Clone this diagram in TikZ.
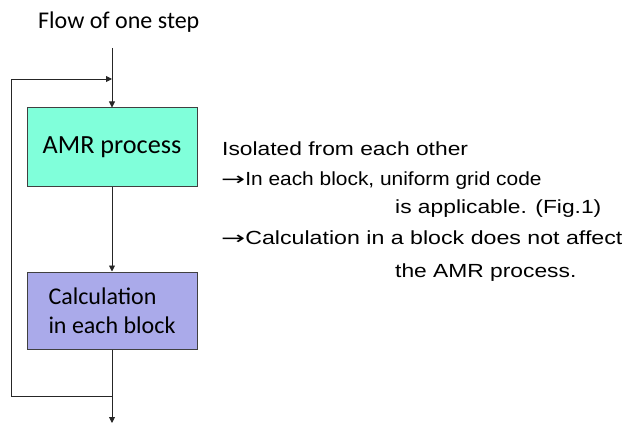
\documentclass[tikz,border=0pt]{standalone}
\usepackage{fontspec}
\setmainfont{Carlito}
\newfontfamily\notefont[FakeStretch=1.2]{Liberation Sans}
\newfontfamily\notefontnarrow[FakeStretch=1.1]{Liberation Sans}
\newfontfamily\notefontwide[FakeStretch=1.22]{Liberation Sans}
\newfontfamily\arrowfont[FakeStretch=1.6]{DejaVu Sans}
\usetikzlibrary{arrows.meta}
\definecolor{amrfill}{RGB}{128,255,218}
\definecolor{calcfill}{RGB}{170,170,234}
\definecolor{edgegray}{RGB}{64,64,64}
\tikzset{
  flowbox/.style={draw=edgegray, line width=1pt, minimum width=170pt, inner sep=0pt},
  flowline/.style={draw=black!85, line width=0.9pt, -{Triangle[length=6pt,width=6pt]}},
  note/.style={anchor=base west, inner sep=0pt, font=\notefont\fontsize{19}{22}\selectfont}
}
\newcommand{\noteArrow}{{\arrowfont\fontsize{18}{20}\selectfont →}}
\begin{document}
\begin{tikzpicture}[x=1pt,y=-1pt]
\useasboundingbox (0,0) rectangle (629,425);
\node[anchor=base west, inner sep=0pt, font=\fontsize{24}{28}\selectfont] (title) at (38,29) {Flow of one step};
\node[flowbox, fill=amrfill, minimum height=78pt, font=\fontsize{26.2}{30}\selectfont] (amr) at (112,147) {AMR process};
\node[flowbox, fill=calcfill, minimum height=77pt, align=left, font=\fontsize{24}{29}\selectfont] (calc) at (112,310.5) {Calculation\\in each block};
\coordinate (start) at (112,48);
\coordinate (join) at (112,79);
\coordinate (tl) at (11,79);
\coordinate (bl) at (11,396);
\coordinate (split) at (112,396);
\coordinate (endpt) at (112,423);
\draw[flowline] (start) -- (amr.north);
\draw[flowline] (split) -- (bl) -- (tl) -- (join);
\draw[flowline] (amr.south) -- (calc.north);
\draw[flowline] (calc.south) -- (endpt);
\node[note] (n1) at (222,156) {Isolated from each other};
\node[note] (n2) at (221,185) {\noteArrow{\notefontnarrow In each block, uniform grid code}};
\node[note] (n3) at (395,213) {is applicable. (Fig.1)};
\node[note] (n4) at (221,244) {\noteArrow{\notefontwide Calculation in a block does not affect}};
\node[note] (n5) at (395,277) {the AMR process.};
\end{tikzpicture}
\end{document}
